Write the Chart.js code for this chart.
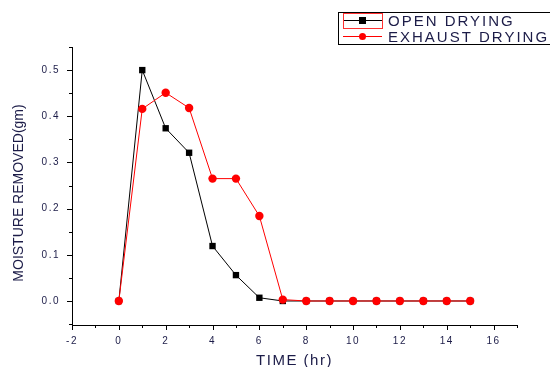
<!DOCTYPE html>
<html>
<head>
<meta charset="utf-8">
<script src="https://cdn.jsdelivr.net/npm/chart.js@4/dist/chart.umd.min.js"></script>
<style>
  html, body { margin: 0; padding: 0; background: #fff; }
  #wrap { width: 550px; height: 367px; }
</style>
</head>
<body>
<div id="wrap"><canvas id="dryChart"></canvas></div>
<script>
'use strict';

const hours        = [0, 1, 2, 3, 4, 5, 6, 7, 8, 9, 10, 11, 12, 13, 14, 15];
const openDrying   = [0, 0.5, 0.374, 0.321, 0.119, 0.056, 0.007, 0, 0, 0, 0, 0, 0, 0, 0, 0];
const exhaustDrying = [0, 0.416, 0.451, 0.418, 0.265, 0.265, 0.184, 0.003, 0, 0, 0, 0, 0, 0, 0, 0];
const xTicks = [-2, 0, 2, 4, 6, 8, 10, 12, 14, 16];
const yTicks = [0.0, 0.1, 0.2, 0.3, 0.4, 0.5];
const legendLabels = ['OPEN DRYING', 'EXHAUST DRYING'];
const yTitle = 'MOISTURE REMOVED(gm)';

const inkColor = '#1c1c48';
const fontFamily = "'Liberation Sans', Arial, sans-serif";

// spaced-out lettering like the original export
const spacingPlugin = {
  id: 'spacing',
  beforeUpdate(chart) { chart.ctx.letterSpacing = '1.5px'; },
  beforeDraw(chart) { chart.ctx.letterSpacing = '1.5px'; }
};

// ===== Tick marks (major + minor, outward), y title and legend box =====
const decorPlugin = {
  id: 'decor',
  afterDraw(chart) {
    const ctx = chart.ctx;
    const xs = chart.scales.x, ys = chart.scales.y;
    ctx.save();
    ctx.strokeStyle = '#000';
    ctx.lineWidth = 1;
    ctx.beginPath();
    for (let v = -2; v <= 17; v++) {
      const px = Math.round(xs.getPixelForValue(v)) + 0.5;
      const len = (v % 2 === 0) ? 5 : 3;
      ctx.moveTo(px, ys.bottom);
      ctx.lineTo(px, ys.bottom + len);
    }
    for (let i = -1; i <= 11; i++) {
      const v = i * 0.05;
      const py = Math.round(ys.getPixelForValue(v)) + 0.5;
      const len = (i % 2 === 0) ? 5 : 3;
      ctx.moveTo(xs.left, py);
      ctx.lineTo(xs.left - len, py);
    }
    ctx.stroke();

    // y axis title (sits a little below the axis centre in the original)
    ctx.save();
    ctx.translate(19, 193);
    ctx.rotate(-Math.PI / 2);
    ctx.fillStyle = inkColor;
    ctx.font = '14px ' + fontFamily;
    ctx.letterSpacing = '0px';
    ctx.textAlign = 'center';
    ctx.textBaseline = 'middle';
    ctx.fillText(yTitle, 0, 0);
    ctx.restore();

    // legend
    ctx.strokeRect(338.5, 12.5, 220, 32);
    const rows = [
      { label: legendLabels[0], color: '#000', shape: 'rect', y: 20.5 },
      { label: legendLabels[1], color: '#ff0000', shape: 'circle', y: 36.5 }
    ];
    rows.forEach(r => {
      ctx.strokeStyle = r.color;
      ctx.fillStyle = r.color;
      ctx.beginPath();
      ctx.moveTo(343, r.y);
      ctx.lineTo(382, r.y);
      ctx.stroke();
      if (r.shape === 'rect') {
        ctx.fillRect(359, r.y - 3.5, 7, 7);
      } else {
        ctx.beginPath();
        ctx.arc(362.5, r.y, 3.5, 0, Math.PI * 2);
        ctx.fill();
      }
      ctx.fillStyle = inkColor;
      ctx.font = '15px ' + fontFamily;
      ctx.letterSpacing = '2px';
      ctx.textBaseline = 'middle';
      ctx.fillText(r.label, 388, r.y + 1);
    });
    ctx.strokeStyle = '#ff3030';
    ctx.strokeRect(343.5, 13.5, 39, 15);
    ctx.restore();
  }
};

new Chart(document.getElementById('dryChart'), {
  type: 'line',
  data: {
    datasets: [{
      label: legendLabels[0],
      data: hours.map((h, i) => ({ x: h, y: openDrying[i] })),
      borderColor: '#000',
      backgroundColor: '#000',
      borderWidth: 1,
      pointStyle: 'rect',
      pointRadius: 4.5,
      pointBorderWidth: 0,
      tension: 0,
      order: 1
    }, {
      label: legendLabels[1],
      data: hours.map((h, i) => ({ x: h, y: exhaustDrying[i] })),
      borderColor: '#ff0000',
      backgroundColor: '#ff0000',
      borderWidth: 1,
      pointStyle: 'circle',
      pointRadius: 4.2,
      pointBorderWidth: 0,
      tension: 0,
      order: 0
    }]
  },
  options: {
    responsive: true, maintainAspectRatio: false,
    animation: false,
    layout: { padding: { top: 47, right: 33, left: 0, bottom: 0 } },
    plugins: { legend: { display: false }, tooltip: { enabled: false } },
    scales: {
      x: {
        type: 'linear', min: -2, max: 17,
        afterBuildTicks: s => { s.ticks = xTicks.map(v => ({ value: v })); },
        afterFit: s => { s.height = 42; },
        grid: { drawOnChartArea: false, drawTicks: false },
        border: { display: true, color: '#000', width: 1 },
        ticks: { color: inkColor, padding: 10, maxRotation: 0, font: { family: fontFamily, size: 10 } },
        title: { display: true, text: 'TIME (hr)', color: inkColor, padding: { top: 0, bottom: 0 }, font: { family: fontFamily, size: 15, lineHeight: 0.8 } }
      },
      y: {
        type: 'linear', min: -0.052, max: 0.55,
        afterBuildTicks: s => { s.ticks = yTicks.map(v => ({ value: v })); },
        afterFit: s => { s.width = 72; },
        grid: { drawOnChartArea: false, drawTicks: false },
        border: { display: true, color: '#000', width: 1 },
        ticks: { color: inkColor, padding: 12, callback: v => v.toFixed(1), font: { family: fontFamily, size: 10 } },
        title: { display: false, text: yTitle }
      }
    }
  },
  plugins: [spacingPlugin, decorPlugin]
});
</script>
</body>
</html>
